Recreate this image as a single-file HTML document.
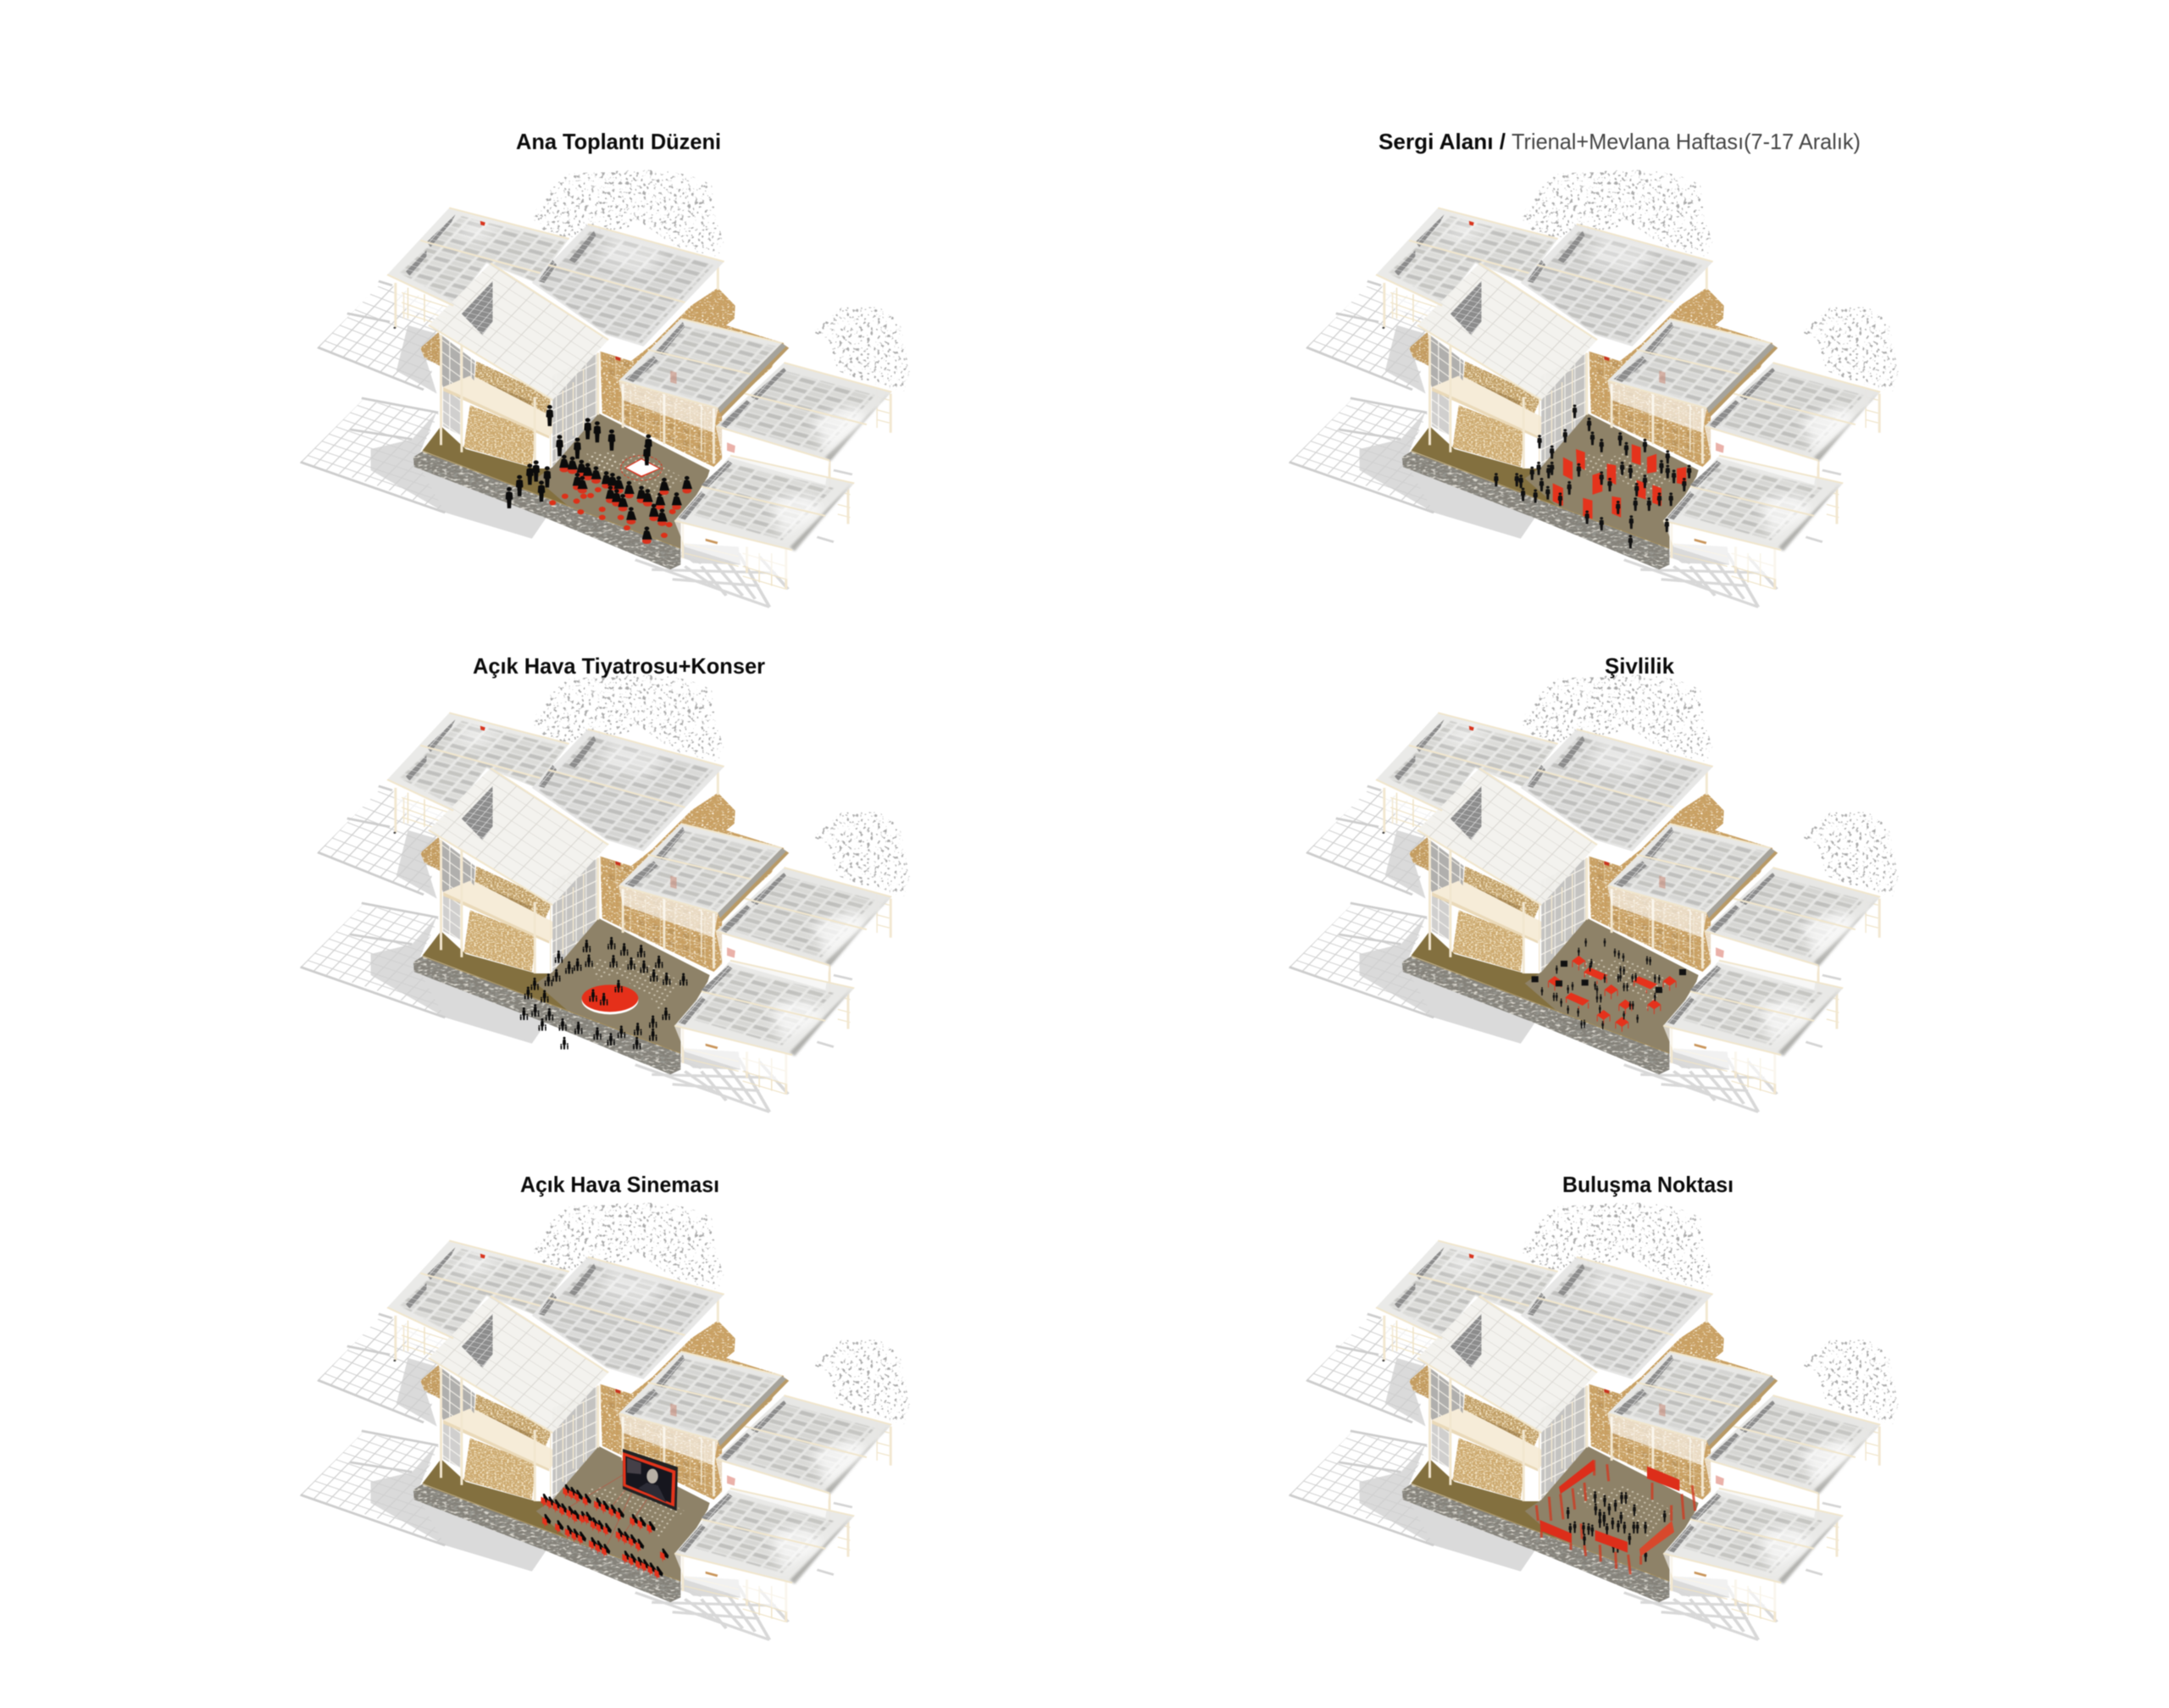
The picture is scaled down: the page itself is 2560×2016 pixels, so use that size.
<!DOCTYPE html>
<html><head><meta charset="utf-8"><style>
html,body{margin:0;padding:0;background:#fff;width:2560px;height:2016px;overflow:hidden}
svg{display:block;filter:blur(.6px)}
text{font-family:"Liberation Sans",sans-serif;font-size:26px;fill:#0a0a0a}
.b{font-weight:bold}.l{fill:#444}
.m{fill:none;stroke:none}
</style></head><body>
<svg xmlns="http://www.w3.org/2000/svg" width="2560" height="2016" viewBox="0 0 2560 2016">
<defs>
<filter id="tree" x="0" y="0" width="100%" height="100%"><feTurbulence type="fractalNoise" baseFrequency=".12 .1" numOctaves="2" seed="4"/><feColorMatrix values="0 0 0 0 .4 0 0 0 0 .4 0 0 0 0 .4 9 0 0 0 -5.3"/><feComposite in2="SourceAlpha" operator="in"/></filter>
<filter id="straw" x="0" y="0" width="100%" height="100%"><feTurbulence type="fractalNoise" baseFrequency=".16 .24" numOctaves="2" seed="8" result="n"/><feColorMatrix in="n" values="0 0 0 0 .58 0 0 0 0 .38 0 0 0 0 .14 7 0 0 0 -3.6" result="d"/><feColorMatrix in="n" values="0 0 0 0 .96 0 0 0 0 .88 0 0 0 0 .7 0 7 0 0 -4.1" result="w"/><feMerge result="m"><feMergeNode in="SourceGraphic"/><feMergeNode in="d"/><feMergeNode in="w"/></feMerge><feComposite in="m" in2="SourceAlpha" operator="in"/></filter>
<filter id="grain" x="0" y="0" width="100%" height="100%"><feTurbulence type="fractalNoise" baseFrequency=".2 .3" numOctaves="2" seed="5" result="n"/><feColorMatrix in="n" values="0 0 0 0 .6 0 0 0 0 .42 0 0 0 0 .18 8 0 0 0 -3.9" result="d"/><feColorMatrix in="n" values="0 0 0 0 .9 0 0 0 0 .78 0 0 0 0 .56 0 8 0 0 -4.2" result="w"/><feMerge result="m"><feMergeNode in="SourceGraphic"/><feMergeNode in="d"/><feMergeNode in="w"/></feMerge><feComposite in="m" in2="SourceAlpha" operator="in"/></filter>
<filter id="stone" x="0" y="0" width="100%" height="100%"><feTurbulence type="fractalNoise" baseFrequency=".08 .16" numOctaves="2" seed="2" result="n"/><feColorMatrix in="n" values="0 0 0 0 .3 0 0 0 0 .3 0 0 0 0 .27 5 0 0 0 -2.5" result="d"/><feColorMatrix in="n" values="0 0 0 0 .72 0 0 0 0 .7 0 0 0 0 .64 0 5 0 0 -2.8" result="w"/><feMerge result="m"><feMergeNode in="SourceGraphic"/><feMergeNode in="d"/><feMergeNode in="w"/></feMerge><feComposite in="m" in2="SourceAlpha" operator="in"/></filter>
<filter id="fog" x="-30%" y="-30%" width="160%" height="160%"><feGaussianBlur stdDeviation="14"/></filter>
<filter id="soft" x="-10%" y="-10%" width="120%" height="120%"><feGaussianBlur stdDeviation="3"/></filter>
<filter id="pane" x="-10%" y="-10%" width="120%" height="120%"><feGaussianBlur stdDeviation="1.600"/></filter>
<pattern id="sg1" width="100" height="100" patternUnits="userSpaceOnUse" patternTransform="matrix(.3 .15 -.18 .24 70 730)"><path d="M0 0H100M0 0V100" stroke="#cfcfcf" stroke-width="18" fill="none"/></pattern>
<pattern id="sg2" width="100" height="100" patternUnits="userSpaceOnUse" patternTransform="matrix(.3 .13 -.17 .22 30 1080)"><path d="M0 0H100M0 0V100" stroke="#d0d0d0" stroke-width="18" fill="none"/></pattern>
<pattern id="rf" width="200" height="200" patternUnits="userSpaceOnUse" patternTransform="matrix(.42 .145 -.1 .135 0 0)"><g fill="#7e7e78"><rect x="8" y="10" width="84" height="80" fill-opacity=".34"/><rect x="108" y="10" width="84" height="80" fill-opacity=".14"/><rect x="8" y="110" width="84" height="80" fill-opacity=".18"/><rect x="108" y="110" width="84" height="80" fill-opacity=".38"/></g></pattern>
<pattern id="rl" width="100" height="100" patternUnits="userSpaceOnUse" patternTransform="matrix(.42 .34 -.18 .24 0 0)"><path d="M0 0H100M0 0V100" stroke="#b5b1a8" stroke-opacity=".42" stroke-width="9" fill="none"/></pattern>
<pattern id="dk" width="100" height="100" patternUnits="userSpaceOnUse" patternTransform="matrix(.2 .07 -.09 .13 0 0)"><rect width="100" height="100" fill="#8c8c8c"/><path d="M0 0H100M0 0V100" stroke="#ececec" stroke-width="14" fill="none"/></pattern>
<pattern id="gl" width="100" height="100" patternUnits="userSpaceOnUse" patternTransform="matrix(.24 -.15 0 .4 0 0)"><rect width="100" height="100" fill="#c4c3c1"/><path d="M0 0V100M0 0H100" stroke="#f6f3ec" stroke-width="18" fill="none"/></pattern>
<pattern id="gl2" width="100" height="100" patternUnits="userSpaceOnUse" patternTransform="matrix(.26 .24 0 .36 0 0)"><rect width="100" height="100" fill="#b0afad"/><path d="M0 0V100M0 0H100" stroke="#f6f3ec" stroke-width="18" fill="none"/></pattern>
<pattern id="lat" width="100" height="100" patternUnits="userSpaceOnUse" patternTransform="matrix(.36 .13 0 .38 0 0)"><path d="M0 0V100M0 0H100" stroke="#f4e8cd" stroke-opacity=".8" stroke-width="7" fill="none"/><rect x="55" y="55" width="38" height="38" fill="#8d6a36" fill-opacity=".22"/></pattern>
<pattern id="dots" width="14" height="14" patternUnits="userSpaceOnUse" patternTransform="rotate(30)"><circle cx="7" cy="7" r="2.6" fill="#e7e0cf" fill-opacity=".7"/></pattern>

<g id="b" transform="matrix(.4878 0 0 .3846 340 130)">
<!-- shadows -->
<path fill="#dadada" d="M290 660 370 690 325 730 360 870 262 800ZM200 1040 300 1010 360 925 310 1080 625 1250 590 1315 380 1235 200 1105ZM960 1330 1090 1340 1095 1395 980 1390 950 1360Z"/>
<path fill="url(#sg1)" d="M70 730 230 525 375 600 340 860 150 770Z"/>
<path fill="url(#sg2)" d="M30 1080 180 890 365 930 310 1075 380 1235 200 1145Z"/>
<path fill="none" stroke="#cdcdcd" stroke-width="7" d="M72 728 328 858M143 624 246 650M219 525 252 538M178 884 363 928M30 1080 380 1235M150 980 300 1010"/>
<path fill="none" stroke="#d8d8d8" stroke-width="8" d="M840 1380 1165 1525M900 1345 1000 1390M1090 1360 1165 1525M1140 1370 1210 1470M1030 1390 1100 1490M960 1400 1040 1470M880 1410 1180 1420M930 1440 1140 1460M1000 1400 1060 1490M1060 1380 1130 1500"/>
<path fill="none" stroke="#d4d4d4" stroke-width="7" d="M1320 1105 1365 1118M1280 1310 1320 1325"/>
<!-- trees -->
<g filter="url(#tree)"><path d="M590 330 Q620 250 680 195 L820 185 Q950 175 1025 230 L1035 340 1055 400 1040 450 940 420 860 350 700 390 630 385Z"/><path d="M1270 680 1340 605 1430 605 1480 650 1505 800 1490 865 1400 835 1330 800 1310 710Z"/></g>
<!-- floor -->
<path fill="#83703f" d="M325 1045 370 970 430 1040 600 1100 640 1100 750 930 1020 1105 1015 1125 950 1260 950 1345Z"/>
<path fill="#8e8268" d="M600 1130 640 1095 750 930 1020 1105 1015 1125 950 1260 950 1345 700 1240Z"/>
<path fill="url(#dots)" d="M720 1060 790 1055 800 1100 750 1120ZM770 1085 840 1050 960 1130 900 1190ZM860 1140 940 1150 900 1220Z"/>
<!-- stone -->
<path filter="url(#stone)" fill="#85827a" d="M303 1065 325 1047 950 1345 950 1395 925 1410 620 1250 305 1095Z"/>
<path fill="none" stroke="#a98f56" stroke-width="2" d="M325 1047 950 1345"/>
<!-- straw parts -->
<g filter="url(#straw)">
<path fill="#c99f62" d="M975 600 1040 545 1082 600 1080 640 1060 660 1110 680 1200 715 1170 790 1050 930 1050 1070 1030 1095 760 930 755 740 830 770 880 720Z"/>
<path fill="#c29a5e" d="M320 730 365 680 375 790 330 760Z"/>
</g>
<g filter="url(#grain)">
<path fill="#cda86c" d="M440 905 600 985 590 1095 425 1035Z"/>
<path fill="#bd9a60" d="M455 770 640 880 620 940 450 850Z"/>
</g>
<path fill="#8f6f3a" fill-opacity=".55" d="M480 835 590 895 585 905 478 850Z"/>
<path fill="url(#lat)" d="M810 850 1030 930 1030 1085 810 965Z"/>
<path fill="url(#lat)" d="M755 740 830 770 810 830 755 800Z"/>
<path fill="#c8331e" d="M1062 1020 1082 1030 1080 1052 1062 1045ZM792 755 804 760 804 770 792 765Z"/>
<!-- balcony -->
<path fill="#f6ecd8" d="M375 850 440 810 670 960 632 1000Z"/>
<path fill="#ead9b8" d="M375 850 632 1000 632 1008 375 862Z"/>
<!-- screens -->
<path fill="url(#gl)" d="M640 815 752 745 752 930 640 1095Z"/>
<path fill="url(#gl2)" d="M370 690 452 770 450 830 440 815 375 850 370 830Z"/>
<path fill="url(#gl2)" fill-opacity=".6" d="M375 862 420 885 420 1000 375 970Z"/>
<!-- under A curtain + lattices -->
<path fill="#fff" fill-opacity=".7" d="M250 510 400 600 380 650 262 600Z"/>
<path fill="none" stroke="#efe3c6" stroke-width="3" d="M275 560 400 610M275 590 385 640M275 620 360 655M290 545V640M330 565V650M1425 880 1455 890M1425 920 1455 930M1425 950 1455 960M1330 1170 1360 1180M1330 1210 1360 1220M1330 1240 1360 1250M1100 1360 1205 1400M1100 1400 1205 1440M1100 1430 1205 1470M1140 1360V1450M1170 1360V1460M960 1330 1090 1370M960 1360 1090 1400"/>
<!-- columns -->
<path fill="none" stroke="#f2e7d0" stroke-width="6" d="M370 690V1028M420 700V1050M597 880V1100M750 745V935M260 530V668M1040 470V552M1458 870V990M1355 1145V1270M1205 1345V1470M1310 1075V1165M810 840V975M910 865V1025M1030 915V1085M955 1265V1375M1110 1340V1420"/>
<path fill="none" stroke="#f2e7d0" stroke-width="3" d="M635 880V1095M665 860V1040M690 835V1000M715 795V980M280 560V640M1425 860V975M1000 880V1050"/>
<circle cx="258" cy="668" r="3" fill="#444"/>
<!-- roofs -->
<path fill="#e8e8e6" fill-opacity=".92" d="M390 300 680 395 600 530 480 470 400 600 240 505Z"/>
<path fill="url(#rf)" filter="url(#pane)" d="M420 325 670 405 595 525 480 465 405 590 270 500Z"/>
<path fill="#e6e6e4" fill-opacity=".94" d="M725 350 1055 465 860 725 770 690 590 530Z"/>
<path fill="url(#rf)" filter="url(#pane)" d="M730 370 1030 475 855 715 770 685 605 535Z"/>
<path fill="#f2f1ed" fill-opacity=".95" d="M490 470 775 705 640 890 340 660Z"/>
<path fill="url(#rl)" d="M490 470 775 705 640 890 340 660Z"/>
<path fill="url(#dk)" d="M420 625 495 525 495 650 470 690ZM405 320 335 405 345 420 395 345ZM335 430 285 495 295 510 335 450ZM740 370 680 460 695 470 745 385ZM640 460 605 525 620 530 650 475Z"/>
<path fill="#b99a66" d="M1170 755 1195 715 1212 730 1050 940 1040 915Z"/>
<path fill="#e8e8e6" d="M950 640 1195 715 1040 915 800 830Z"/>
<path fill="url(#rf)" filter="url(#pane)" d="M950 660 1180 725 1035 905 825 825Z"/>
<path fill="url(#dk)" d="M955 650 890 740 905 750 960 665ZM885 755 815 825 835 835 895 770Z"/>
<path fill="#a5a39c" d="M1195 715 1205 725 1045 930 1040 915Z"/>
<path fill="#e6e6e4" fill-opacity=".95" d="M1200 775 1460 865 1310 1075 1035 970Z"/>
<path fill="url(#rf)" filter="url(#pane)" d="M1200 800 1420 875 1290 1050 1065 965Z"/>
<path fill="url(#dk)" d="M1200 790 1120 880 1135 890 1205 800ZM1110 890 1045 965 1060 975 1120 900Z"/>
<path fill="#a2a29f" fill-opacity=".8" filter="url(#soft)" d="M1455 865 1440 890 1300 1065 1312 1078Z"/>
<path fill="#e8e8e6" fill-opacity=".96" d="M1070 1060 1370 1145 1220 1350 935 1260Z"/>
<path fill="url(#rf)" filter="url(#pane)" d="M1070 1085 1320 1160 1195 1320 975 1240Z"/>
<path fill="url(#dk)" d="M1065 1075 1000 1150 1015 1160 1075 1085ZM1000 1170 945 1250 960 1258 1010 1180Z"/>
<path fill="#a2a29f" fill-opacity=".8" filter="url(#soft)" d="M1365 1145 1345 1170 1215 1340 1225 1355Z"/>
<!-- fog -->
<g filter="url(#fog)" fill="#fff" fill-opacity=".7"><path d="M1270 950 1370 900 1400 960 1300 1050ZM1170 1190 1270 1180 1290 1240 1190 1310Z"/><path d="M440 330 520 360 470 410 400 390ZM780 390 920 440 860 500 750 460Z" fill-opacity=".4"/></g>
<!-- curtains -->
<path fill="#fff" fill-opacity=".62" d="M935 1262 1220 1352 1210 1440 960 1340ZM1035 972 1310 1077 1300 1150 1050 1060ZM800 832 1040 917 1030 990 810 890Z"/>
<!-- beams -->
<path fill="none" stroke="#f1e6cc" stroke-width="5" d="M390 300 680 395M320 400 610 500M240 505 400 600M725 350 1055 465M630 475 960 590M490 470 775 705M340 660 640 890M950 640 1195 715M870 735 1120 810M800 830 1040 915M1200 775 1460 865M1105 870 1400 965M1035 970 1310 1075M1070 1060 1370 1145M1000 1155 1300 1245M935 1260 1220 1350"/>
<path fill="#d9351e" d="M465 340 477 345 475 355 466 352Z"/>
<path fill="#c98d7c" fill-opacity=".6" d="M925 800 940 805 940 840 925 835Z"/>
<path fill="#c9955a" d="M1010 1315 1040 1325 1038 1332 1010 1322Z"/>
</g>

<marker id="pa" viewBox="0 0 10 30" refX="5" refY="30" markerWidth="22" markerHeight="70" markerUnits="userSpaceOnUse" overflow="visible"><circle cx="5" cy="3.2" r="2.8" fill="#0b0b0b"/><path fill="#0b0b0b" d="M1.5 8Q5 5 8.5 8L9 17 7.5 18 7 30H3L2.500 18 1 17Z"/></marker>
<marker id="sa" viewBox="0 0 20 44" refX="10" refY="44" markerWidth="26" markerHeight="58" markerUnits="userSpaceOnUse" overflow="visible"><ellipse cx="10" cy="37" rx="8.500" ry="6.500" fill="#d9321d"/><circle cx="10" cy="7" r="4.500" fill="#0b0b0b"/><path fill="#0b0b0b" d="M5 13Q10 9 15 14L20 33H1Z"/></marker>
<marker id="ra" viewBox="0 0 20 20" refX="10" refY="10" markerWidth="18" markerHeight="18" markerUnits="userSpaceOnUse" overflow="visible"><circle cx="10" cy="10" r="9" fill="#dd3018"/></marker>
<marker id="pb" viewBox="0 0 10 30" refX="5" refY="30" markerWidth="14" markerHeight="46" markerUnits="userSpaceOnUse" overflow="visible"><circle cx="5" cy="3.2" r="2.8" fill="#111"/><path fill="#111" d="M1.5 8Q5 5 8.5 8L9 17 7.5 18 7 30H3L2.500 18 1 17Z"/></marker>
<marker id="fam" viewBox="0 0 30 45" refX="15" refY="45" markerWidth="35" markerHeight="45" markerUnits="userSpaceOnUse" overflow="visible"><g fill="#0b0b0b"><circle cx="15" cy="5" r="4.500"/><path d="M10 11Q15 8 20 11L21 28 18.500 29 18 45H12L11.500 29 9 28Z"/><circle cx="26.500" cy="26" r="3"/><path d="M24 30H29.500L29 45H25Z"/><circle cx="4" cy="28" r="2.800"/><path d="M1 32H7L6.500 45H2Z"/></g></marker>
<marker id="pd" viewBox="0 0 10 30" refX="5" refY="30" markerWidth="10" markerHeight="30" markerUnits="userSpaceOnUse" overflow="visible"><circle cx="5" cy="3.2" r="2.800" fill="#111"/><path fill="#111" d="M1.500 8Q5 5 8.500 8L9 17 7.500 18 7 30H3L2.500 18 1 17Z"/></marker>
<marker id="gd" viewBox="0 0 30 30" refX="15" refY="30" markerWidth="28" markerHeight="28" markerUnits="userSpaceOnUse" overflow="visible"><path fill="#111" d="M2 5H28V28H2Z"/></marker>
<marker id="ts" viewBox="0 0 60 60" refX="30" refY="30" markerWidth="56" markerHeight="56" markerUnits="userSpaceOnUse" overflow="visible"><path fill="none" stroke="#d9321d" stroke-width="3" d="M6 24V46M54 24V46M30 38V58"/><path fill="#e5321c" d="M30 2 56 22 30 40 4 22Z"/></marker>
<marker id="tl" viewBox="0 0 90 60" refX="45" refY="30" markerWidth="90" markerHeight="60" markerUnits="userSpaceOnUse" overflow="visible"><path fill="none" stroke="#d9321d" stroke-width="3" d="M6 16V36M84 36V56M50 48V60"/><path fill="#e5321c" d="M22 0 88 28 64 46 2 18Z"/></marker>
<marker id="ch" viewBox="0 0 24 40" refX="12" refY="38" markerWidth="32" markerHeight="53" markerUnits="userSpaceOnUse" overflow="visible"><path fill="#080808" d="M6 2Q11-1 13 5L24 20 22 28 10 22Z"/><path fill="#e5321c" d="M1 9 12 15 15 32 9 30 8 38 6 28 1 26Z"/></marker>
<marker id="p6" viewBox="0 0 10 30" refX="5" refY="30" markerWidth="14" markerHeight="44" markerUnits="userSpaceOnUse" overflow="visible"><circle cx="5" cy="3.2" r="2.800" fill="#111"/><path fill="#111" d="M1.500 8Q5 5 8.500 8L9 17 7.500 18 7 30H3L2.500 18 1 17Z"/></marker>
</defs>

<!-- titles -->
<text class="b" x="609" y="176" textLength="242" lengthAdjust="spacingAndGlyphs">Ana Toplantı Düzeni</text>
<text class="b" x="1627" y="176" textLength="150" lengthAdjust="spacingAndGlyphs">Sergi Alanı /</text>
<text class="l" x="1784" y="176" textLength="412" lengthAdjust="spacingAndGlyphs">Trienal+Mevlana Haftası(7-17 Aralık)</text>
<text class="b" x="558" y="795" textLength="345" lengthAdjust="spacingAndGlyphs">Açık Hava Tiyatrosu+Konser</text>
<text class="b" x="1894" y="795" textLength="82" lengthAdjust="spacingAndGlyphs">Şivlilik</text>
<text class="b" x="614" y="1407" textLength="235" lengthAdjust="spacingAndGlyphs">Açık Hava Sineması</text>
<text class="b" x="1844" y="1407" textLength="202" lengthAdjust="spacingAndGlyphs">Buluşma Noktası</text>

<!-- buildings -->
<use href="#b"/>
<use href="#b" transform="translate(1167 0)"/>
<use href="#b" transform="translate(0 596)"/>
<use href="#b" transform="translate(1167 596)"/>
<use href="#b" transform="translate(0 1219)"/>
<use href="#b" transform="translate(1167 1219)"/>

<!-- panel 1 -->
<g transform="matrix(.4878 0 0 .3846 340 130)">
<path fill="url(#dots)" d="M720 1050 790 1050 800 1095 750 1110Z"/>
<ellipse cx="855" cy="1098" rx="50" ry="38" fill="none" stroke="#d9321d" stroke-width="2" stroke-dasharray="7 4"/>
<path fill="#d9321d" d="M855 1068 902 1100 855 1127 813 1098Z"/>
<path fill="#fff" d="M855 1072 897 1100 855 1122 818 1098Z"/>
<path class="m" marker-start="url(#ra)" marker-mid="url(#ra)" marker-end="url(#ra)" d="M640 1205L670 1185 698 1200 715 1185 732 1183 708 1233 760 1225 760 1250 805 1250 820 1282 910 1305 922 1272 930 1232 750 1165 865 1322"/>
<path class="m" marker-start="url(#sa)" marker-mid="url(#sa)" marker-end="url(#sa)" d="M668 1112L688 1117 710 1127 725 1137 745 1147 700 1167 712 1177 770 1162 785 1167 800 1177 825 1192 780 1207 795 1217 810 1232 855 1207 870 1217 900 1227 910 1182 965 1177 940 1227 830 1272 885 1262 905 1277 868 1332"/>
<path class="m" marker-start="url(#pa)" marker-mid="url(#pa)" marker-end="url(#pa)" d="M633 970L725 1010 748 1020 700 1070 783 1045 657 1062 585 1150 600 1140 627 1158 560 1185 613 1202 535 1222 868 1090 872 1060"/>
</g>

<!-- panel 2 -->
<g transform="matrix(.4878 0 0 .3846 1500 130)">
<path fill="#e5331c" d="M738 1040 760 1050 760 1105 740 1090ZM707 1065 730 1080 730 1135 707 1120ZM778 1120 802 1110 802 1170 778 1180ZM813 1085 835 1090 835 1150 813 1135ZM682 1145 707 1160 707 1215 682 1200ZM755 1190 778 1198 778 1255 755 1245ZM825 1185 847 1190 847 1250 825 1238ZM873 1025 895 1035 895 1090 873 1080ZM910 1065 933 1055 933 1110 910 1115ZM982 1100 1005 1095 1005 1150 982 1145ZM885 1135 907 1145 907 1195 885 1185ZM923 1150 945 1160 945 1215 923 1205Z"/>
<path class="m" marker-start="url(#pb)" marker-mid="url(#pb)" marker-end="url(#pb)" d="M650 1038L712 1020 735 945 770 985 845 1030 800 1050 778 1028 860 1060 905 1050 960 1085 945 1115 960 1130 975 1145 1012 1130 680 1070 632 1135 648 1120 680 1120 672 1130 745 1125 605 1160 545 1155 595 1155 655 1170 610 1200 640 1205 670 1195 722 1180 820 1170 850 1120 870 1130 905 1160 885 1185 882 1230 915 1230 940 1215 968 1215 1000 1170 800 1290 765 1270 872 1285 870 1345 958 1295 840 1240 800 1150 700 1215"/>
</g>

<!-- panel 3 -->
<g transform="matrix(.3333 0 0 .3333 560 1000)">
<ellipse cx="480" cy="542" rx="100" ry="50" fill="#fff"/>
<ellipse cx="480" cy="535" rx="100" ry="48" fill="#e5301a"/>
<path class="m" marker-start="url(#fam)" marker-mid="url(#fam)" marker-end="url(#fam)" d="M397 372L485 362 530 384 590 390 298 410 405 424 365 438 335 448 492 426 555 434 600 445 653 428 635 476 680 488 740 490 290 476 262 492 213 506 190 538 248 550 215 600 175 612 265 614 240 650 312 650 368 662 435 682 520 676 578 666 632 686 483 702 575 716 678 612 632 640 318 716 420 547 458 560 510 514"/>
</g>

<!-- panel 4 -->
<g transform="matrix(.3333 0 0 .3333 1720 1040)">
<path class="m" marker-start="url(#ts)" marker-mid="url(#ts)" marker-end="url(#ts)" d="M430 290L545 392 595 445 697 445 518 482 583 507 752 362 345 362"/>
<path class="m" marker-start="url(#tl)" marker-mid="url(#tl)" marker-end="url(#tl)" d="M490 335L425 425 665 367"/>
<path class="m" marker-start="url(#gd)" marker-mid="url(#gd)" marker-end="url(#gd)" d="M275 360L378 305 452 372 360 375 714 398 798 335"/>
<path class="m" marker-start="url(#pd)" marker-mid="url(#pd)" marker-end="url(#pd)" d="M455 232L522 232 558 268 572 275 588 285 430 265 352 328 408 387 392 398 300 405 342 425 352 425 368 445 392 470 428 480 450 520 440 522 515 525 505 468 638 502 590 490 470 320 475 305 578 330 590 332 570 358 578 355 590 390 602 390 620 358 632 355 700 360 715 362 700 425 488 385 495 400 495 430 508 430 672 295 683 298 522 360 612 455 622 455"/>
</g>

<!-- panel 5 -->
<g transform="matrix(.3333 0 0 .3333 560 1660)">
<path fill="none" stroke="#c9412f" stroke-opacity=".55" stroke-width="2.500" d="M530 240 330 360M560 300 470 490M610 330 510 480M540 290 490 350"/>
<path fill="#222" d="M525 150 720 215 716 370 525 292Z"/>
<path fill="#e3341b" d="M525 162 712 228 708 355 526 282Z"/>
<path fill="#16161e" d="M535 176 700 236 696 342 536 276Z"/>
<path fill="#454048" d="M540 182 590 200 590 240 540 235Z"/>
<ellipse cx="630" cy="247" rx="20" ry="26" fill="#b8b0a5"/>
<path fill="#2c2c36" d="M580 290 610 270 650 280 680 340Z"/>
<path class="m" marker-start="url(#ch)" marker-mid="url(#ch)" marker-end="url(#ch)" d="M328 325L348 334 368 344 398 358 438 372 462 382 490 396 515 408 565 430 592 440 625 455 250 358 270 368 292 378 315 392 340 402 360 416 385 420 402 422 425 442 445 452 470 462 515 480 537 492 560 502 585 518 255 430 300 452 335 470 358 482 380 492 420 512 442 524 465 536 538 560 560 570 585 582 605 590 628 602 652 615 672 552"/>
</g>

<!-- panel 6 -->
<g transform="matrix(.3333 0 0 .3333 1760 1680)">
<path fill="none" stroke="#cf3b22" stroke-opacity=".8" stroke-width="9" d="M365 130V185M410 145 416 205M570 210V270M675 250 682 340M330 210 335 275M288 230 296 305M245 250 255 340M205 260 212 345M160 290 166 345M638 290V345M712 220 722 310M318 355 322 410M330 430 335 470M385 430 388 490M440 455 443 515M485 465 493 535M530 470V500M178 380V405M282 425V448"/>
<path class="m" marker-start="url(#p6)" marker-mid="url(#p6)" marker-end="url(#p6)" d="M368 282L402 295 462 285 477 285 272 338 440 312 507 328 614 350 370 325 385 345 400 355 418 325 460 355 296 388 327 392 345 395 358 400 385 370 400 365 430 375 450 385 472 390 505 390 518 390 546 390 490 430 330 432 433 458 448 458 547 490 280 395 410 395"/>
<path fill="#dd2e1a" d="M240 225 362 128 368 165 245 250ZM552 152 667 200 667 240 552 195ZM172 342 285 390 285 425 175 380ZM368 378 483 420 483 458 368 415Z"/>
<path fill="#d8482c" d="M525 445 640 345 648 385 528 472Z"/>
</g>
</svg>
</body></html>
